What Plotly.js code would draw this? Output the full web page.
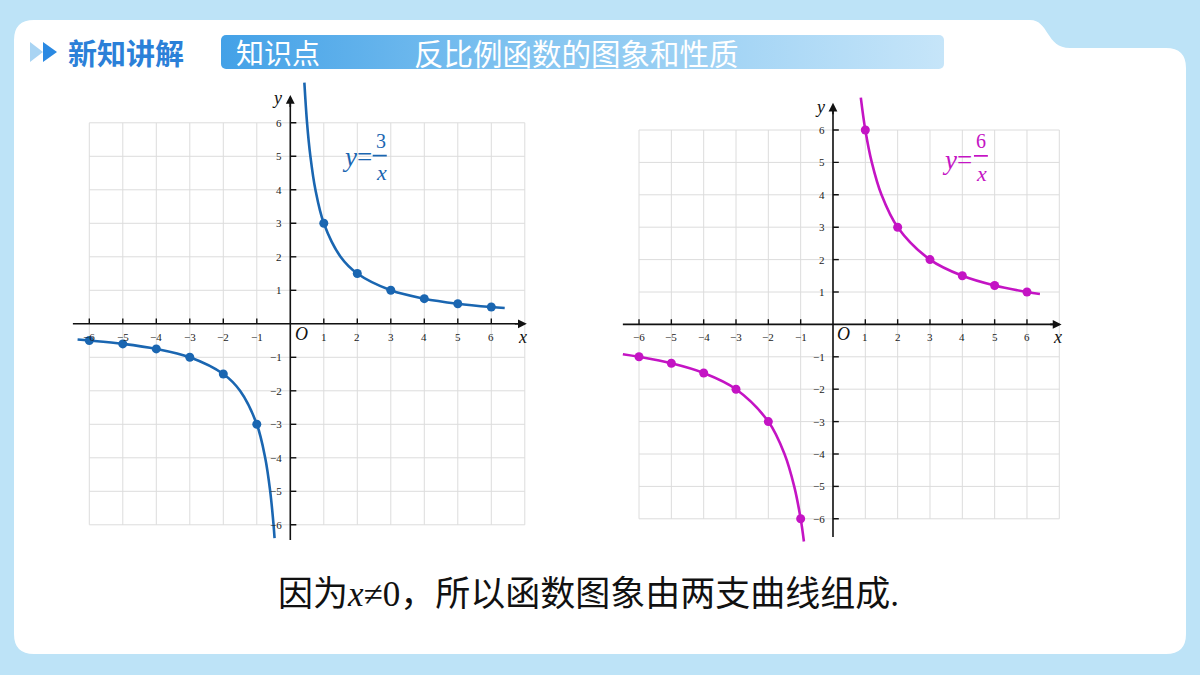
<!DOCTYPE html>
<html><head><meta charset="utf-8">
<script src="https://cdn.plot.ly/plotly-3.0.1.min.js"></script>
<style>html,body{margin:0;padding:0;background:#bde3f7;} #chart{width:1200px;height:675px;}</style>
</head><body><div id="chart"></div>
<script>
// ---------- data ----------
const xTickValues = [-6,-5,-4,-3,-2,-1,1,2,3,4,5,6];
const xTickLabels = ['−6','−5','−4','−3','−2','−1','1','2','3','4','5','6'];
const yTickValues = [-6,-5,-4,-3,-2,-1,1,2,3,4,5,6];
const yTickLabels = ['−6','−5','−4','−3','−2','−1','1','2','3','4','5','6'];
const gridXValues = [-6,-5,-4,-3,-2,-1,0,1,2,3,4,5,6,7];
const gridYValues = [-6,-5,-4,-3,-2,-1,0,1,2,3,4,5,6];

const pointsXPos = [1,2,3,4,5,6];
const pointsXNeg = [-6,-5,-4,-3,-2,-1];
const k3PointsYPos = [3,1.5,1,0.75,0.6,0.5];
const k3PointsYNeg = [-0.5,-0.6,-0.75,-1,-1.5,-3];
const k6PointsYPos = [6,3,2,1.5,1.2,1];
const k6PointsYNeg = [-1,-1.2,-1.5,-2,-3,-6];

// curve samples
const k3CurvePosX = [0.42,0.5,0.6,0.75,1,1.5,2,3,4,5,6,6.4];
const k3CurvePosY = [7.2,6,5,4,3,2,1.5,1,0.75,0.6,0.5,0.47];
const k3CurveNegX = [-6.35,-6,-5,-4,-3,-2,-1.5,-1,-0.75,-0.6,-0.5,-0.47];
const k3CurveNegY = [-0.47,-0.5,-0.6,-0.75,-1,-1.5,-2,-3,-4,-5,-6,-6.4];
const k6CurvePosX = [0.86,1,1.2,1.5,2,3,4,5,6,6.4];
const k6CurvePosY = [7,6,5,4,3,2,1.5,1.2,1,0.94];
const k6CurveNegX = [-6.5,-6,-5,-4,-3,-2,-1.5,-1.2,-1,-0.9];
const k6CurveNegY = [-0.92,-1,-1.2,-1.5,-2,-3,-4,-5,-6,-6.7];

const headerTag = '知识点';
const headerTitle = '反比例函数的图象和性质';
const sectionTitle = '新知讲解';
const bottomText = '因为<i>x</i>≠0，所以函数图象由两支曲线组成.';

// ---------- layout helpers ----------
const W = 1200, H = 675;
const px = x => x / W;
const py = y => 1 - y / H;
const blue = '#1a66b1', magenta = '#c414c4';
const xr = [-6.8, 7.4], yr = [-6.8, 7.5];
const frames = {
  left:  {ux:33.5,  ox:290.3, uy:33.5, oy:323.8},
  right: {ux:32.33, ox:833,   uy:32.4, oy:324.4}
};
function domains(f){
  return {
    x:[(f.ox + xr[0]*f.ux)/W, (f.ox + xr[1]*f.ux)/W],
    y:[1-(f.oy - yr[0]*f.uy)/H, 1-(f.oy - yr[1]*f.uy)/H]
  };
}
const dL = domains(frames.left), dR = domains(frames.right);
const axBase = {showgrid:false, zeroline:false, showticklabels:false, showline:false, ticks:'', fixedrange:true};

// ---------- traces ----------
function curve(x,y,color,xa,ya){
  return {x:x,y:y,mode:'lines',line:{color:color,width:2.6,shape:'spline',smoothing:1},xaxis:xa,yaxis:ya,hoverinfo:'skip',showlegend:false};
}
function pts(x,y,color,xa,ya){
  return {x:x,y:y,mode:'markers',marker:{color:color,size:9},xaxis:xa,yaxis:ya,hoverinfo:'skip',showlegend:false};
}
const data = [
  curve(k3CurvePosX,k3CurvePosY,blue,'x','y'),
  curve(k3CurveNegX,k3CurveNegY,blue,'x','y'),
  pts(pointsXPos,k3PointsYPos,blue,'x','y'),
  pts(pointsXNeg,k3PointsYNeg,blue,'x','y'),
  curve(k6CurvePosX,k6CurvePosY,magenta,'x2','y2'),
  curve(k6CurveNegX,k6CurveNegY,magenta,'x2','y2'),
  pts(pointsXPos,k6PointsYPos,magenta,'x2','y2'),
  pts(pointsXNeg,k6PointsYNeg,magenta,'x2','y2')
];

// ---------- shapes ----------
const shapes = [];
const P = (x,y) => `${px(x)},${py(y)}`;
shapes.push({type:'path', xref:'paper', yref:'paper', layer:'below', line:{width:0}, fillcolor:'#ffffff',
  path:`M${P(34,20)} L${P(1030,20)} C${P(1049,20)} ${P(1046,48)} ${P(1070,48)} L${P(1166,48)} Q${P(1186,48)} ${P(1186,68)} L${P(1186,634)} Q${P(1186,654)} ${P(1166,654)} L${P(34,654)} Q${P(14,654)} ${P(14,634)} L${P(14,40)} Q${P(14,20)} ${P(34,20)} Z`});
shapes.push({type:'path', xref:'paper', yref:'paper', line:{width:0}, fillcolor:'#a9d4f3', path:`M${P(30,42)} L${P(43,52)} L${P(30,62)} Z`});
shapes.push({type:'path', xref:'paper', yref:'paper', line:{width:0}, fillcolor:'#2a89e2', path:`M${P(43,42)} L${P(57,52)} L${P(43,62)} Z`});

const annotations = [];
function buildPlane(xa, ya, axisInfo){
  const gridStyle = {color:'#dcdcdc', width:1};
  gridXValues.forEach(g => shapes.push({type:'line', xref:xa, yref:ya, layer:'below', x0:g, x1:g, y0:-6, y1:6, line:gridStyle}));
  gridYValues.forEach(g => shapes.push({type:'line', xref:xa, yref:ya, layer:'below', x0:-6, x1:7, y0:g, y1:g, line:gridStyle}));
  const axStyle = {color:'#111', width:1.6};
  shapes.push({type:'line', xref:xa, yref:ya, layer:'below', x0:axisInfo.xStart, x1:axisInfo.xEnd-0.1, y0:0, y1:0, line:axStyle});
  shapes.push({type:'line', xref:xa, yref:ya, layer:'below', x0:0, x1:0, y0:axisInfo.yStart, y1:axisInfo.yEnd-0.1, line:axStyle});
  xTickValues.forEach(t => shapes.push({type:'line', xref:xa, yref:ya, layer:'below', x0:t, x1:t, y0:0, y1:0.16, line:{color:'#111', width:1.4}}));
  yTickValues.forEach(t => shapes.push({type:'line', xref:xa, yref:ya, layer:'below', x0:0, x1:0.18, y0:t, y1:t, line:{color:'#111', width:1.4}}));
  annotations.push({xref:xa, yref:ya, axref:xa, ayref:ya, x:axisInfo.xEnd, y:0, ax:axisInfo.xEnd-0.4, ay:0, text:'', showarrow:true, arrowhead:2, arrowsize:1.1, arrowwidth:1.6, arrowcolor:'#111', standoff:0});
  annotations.push({xref:xa, yref:ya, axref:xa, ayref:ya, x:0, y:axisInfo.yEnd, ax:0, ay:axisInfo.yEnd-0.4, text:'', showarrow:true, arrowhead:2, arrowsize:1.1, arrowwidth:1.6, arrowcolor:'#111', standoff:0});
  const tf = {family:'Liberation Serif, DejaVu Serif, serif', size:11, color:'#1a1a1a'};
  xTickValues.forEach((t,i) => annotations.push({xref:xa, yref:ya, x:t, y:-0.39, text:xTickLabels[i], showarrow:false, font:tf, xanchor:'center', yanchor:'middle'}));
  yTickValues.forEach((t,i) => annotations.push({xref:xa, yref:ya, x:-0.18, y:t, text:yTickLabels[i], showarrow:false, font:tf, xanchor:'right', yanchor:'middle'}));
  const lf = {family:'Liberation Serif, DejaVu Serif, serif', size:18, color:'#111'};
  annotations.push({xref:xa, yref:ya, x:0.33, y:-0.3, text:'<i>O</i>', showarrow:false, font:lf});
  annotations.push({xref:xa, yref:ya, x:6.93, y:-0.39, text:'<i>x</i>', showarrow:false, font:lf});
  annotations.push({xref:xa, yref:ya, x:-0.39, y:axisInfo.yLabel, text:'<i>y</i>', showarrow:false, font:lf});
  const ef = {family:'Liberation Serif, DejaVu Serif, serif', color:axisInfo.color};
  annotations.push({xref:xa, yref:ya, x:axisInfo.eqX, y:axisInfo.eqY, text:'<i>y</i>=', showarrow:false, font:Object.assign({size:27}, ef)});
  annotations.push({xref:xa, yref:ya, x:axisInfo.numX, y:axisInfo.numY, text:axisInfo.num, showarrow:false, font:Object.assign({size:20}, ef)});
  annotations.push({xref:xa, yref:ya, x:axisInfo.numX, y:axisInfo.denY, text:'<i>x</i>', showarrow:false, font:Object.assign({size:22}, ef)});
  shapes.push({type:'line', xref:xa, yref:ya, x0:axisInfo.barX0, x1:axisInfo.barX1, y0:axisInfo.barY, y1:axisInfo.barY, line:{color:axisInfo.color, width:1.6}});
}
buildPlane('x','y',{xStart:-6.49, xEnd:7.06, yStart:-6.45, yEnd:6.83, yLabel:6.74, color:blue,
  eqX:2.0, eqY:4.97, num:'3', numX:2.71, numY:5.46, denY:4.53, barX0:2.46, barX1:2.88, barY:5.02});
buildPlane('x2','y2',{xStart:-6.5, xEnd:7.07, yStart:-6.56, yEnd:6.84, yLabel:6.7, color:magenta,
  eqX:3.84, eqY:5.08, num:'6', numX:4.58, numY:5.66, denY:4.65, barX0:4.36, barX1:4.79, barY:5.2});

annotations.push({xref:'paper', yref:'paper', x:px(66), y:py(52), xanchor:'left', yanchor:'middle', text:'<b>'+sectionTitle+'</b>', showarrow:false,
  font:{family:'Noto Sans CJK SC', size:29, color:'#2b80d8'}});
annotations.push({xref:'paper', yref:'paper', x:px(234), y:py(52), xanchor:'left', yanchor:'middle', text:headerTag, showarrow:false,
  font:{family:'Noto Sans CJK SC', size:28, color:'#ffffff'}});
annotations.push({xref:'paper', yref:'paper', x:px(412), y:py(52), xanchor:'left', yanchor:'middle', text:headerTitle, showarrow:false,
  font:{family:'Noto Sans CJK SC', size:29.5, color:'#ffffff'}});
annotations.push({xref:'paper', yref:'paper', x:px(588), y:py(594), xanchor:'center', yanchor:'middle', text:bottomText, showarrow:false,
  font:{family:'Liberation Serif, Noto Sans CJK SC, serif', size:35, color:'#111'}});

const barSvg = `<svg xmlns="http://www.w3.org/2000/svg" width="723" height="34" viewBox="0 0 723 34" preserveAspectRatio="none"><defs><linearGradient id="g" x1="0" y1="0" x2="1" y2="0"><stop offset="0" stop-color="#43a1e7"/><stop offset="0.45" stop-color="#86c6f1"/><stop offset="1" stop-color="#c6e5f9"/></linearGradient></defs><rect x="0" y="0" width="723" height="34" rx="5" ry="5" fill="url(#g)"/></svg>`;
const images = [{source:'data:image/svg+xml;charset=utf-8,' + encodeURIComponent(barSvg), xref:'paper', yref:'paper',
  x:px(221), y:py(35), sizex:(944-221)/W, sizey:34/H, xanchor:'left', yanchor:'top', sizing:'stretch', layer:'above'}];

const layout = {
  width:W, height:H, margin:{l:0,r:0,t:0,b:0},
  paper_bgcolor:'#bde3f7', plot_bgcolor:'rgba(0,0,0,0)', showlegend:false,
  xaxis:Object.assign({domain:dL.x, range:xr}, axBase),
  yaxis:Object.assign({domain:dL.y, range:yr}, axBase),
  xaxis2:Object.assign({domain:dR.x, range:xr, anchor:'y2'}, axBase),
  yaxis2:Object.assign({domain:dR.y, range:yr, anchor:'x2'}, axBase),
  shapes:shapes, annotations:annotations, images:images
};
Plotly.newPlot('chart', data, layout, {displayModeBar:false, staticPlot:true});
</script></body></html>
